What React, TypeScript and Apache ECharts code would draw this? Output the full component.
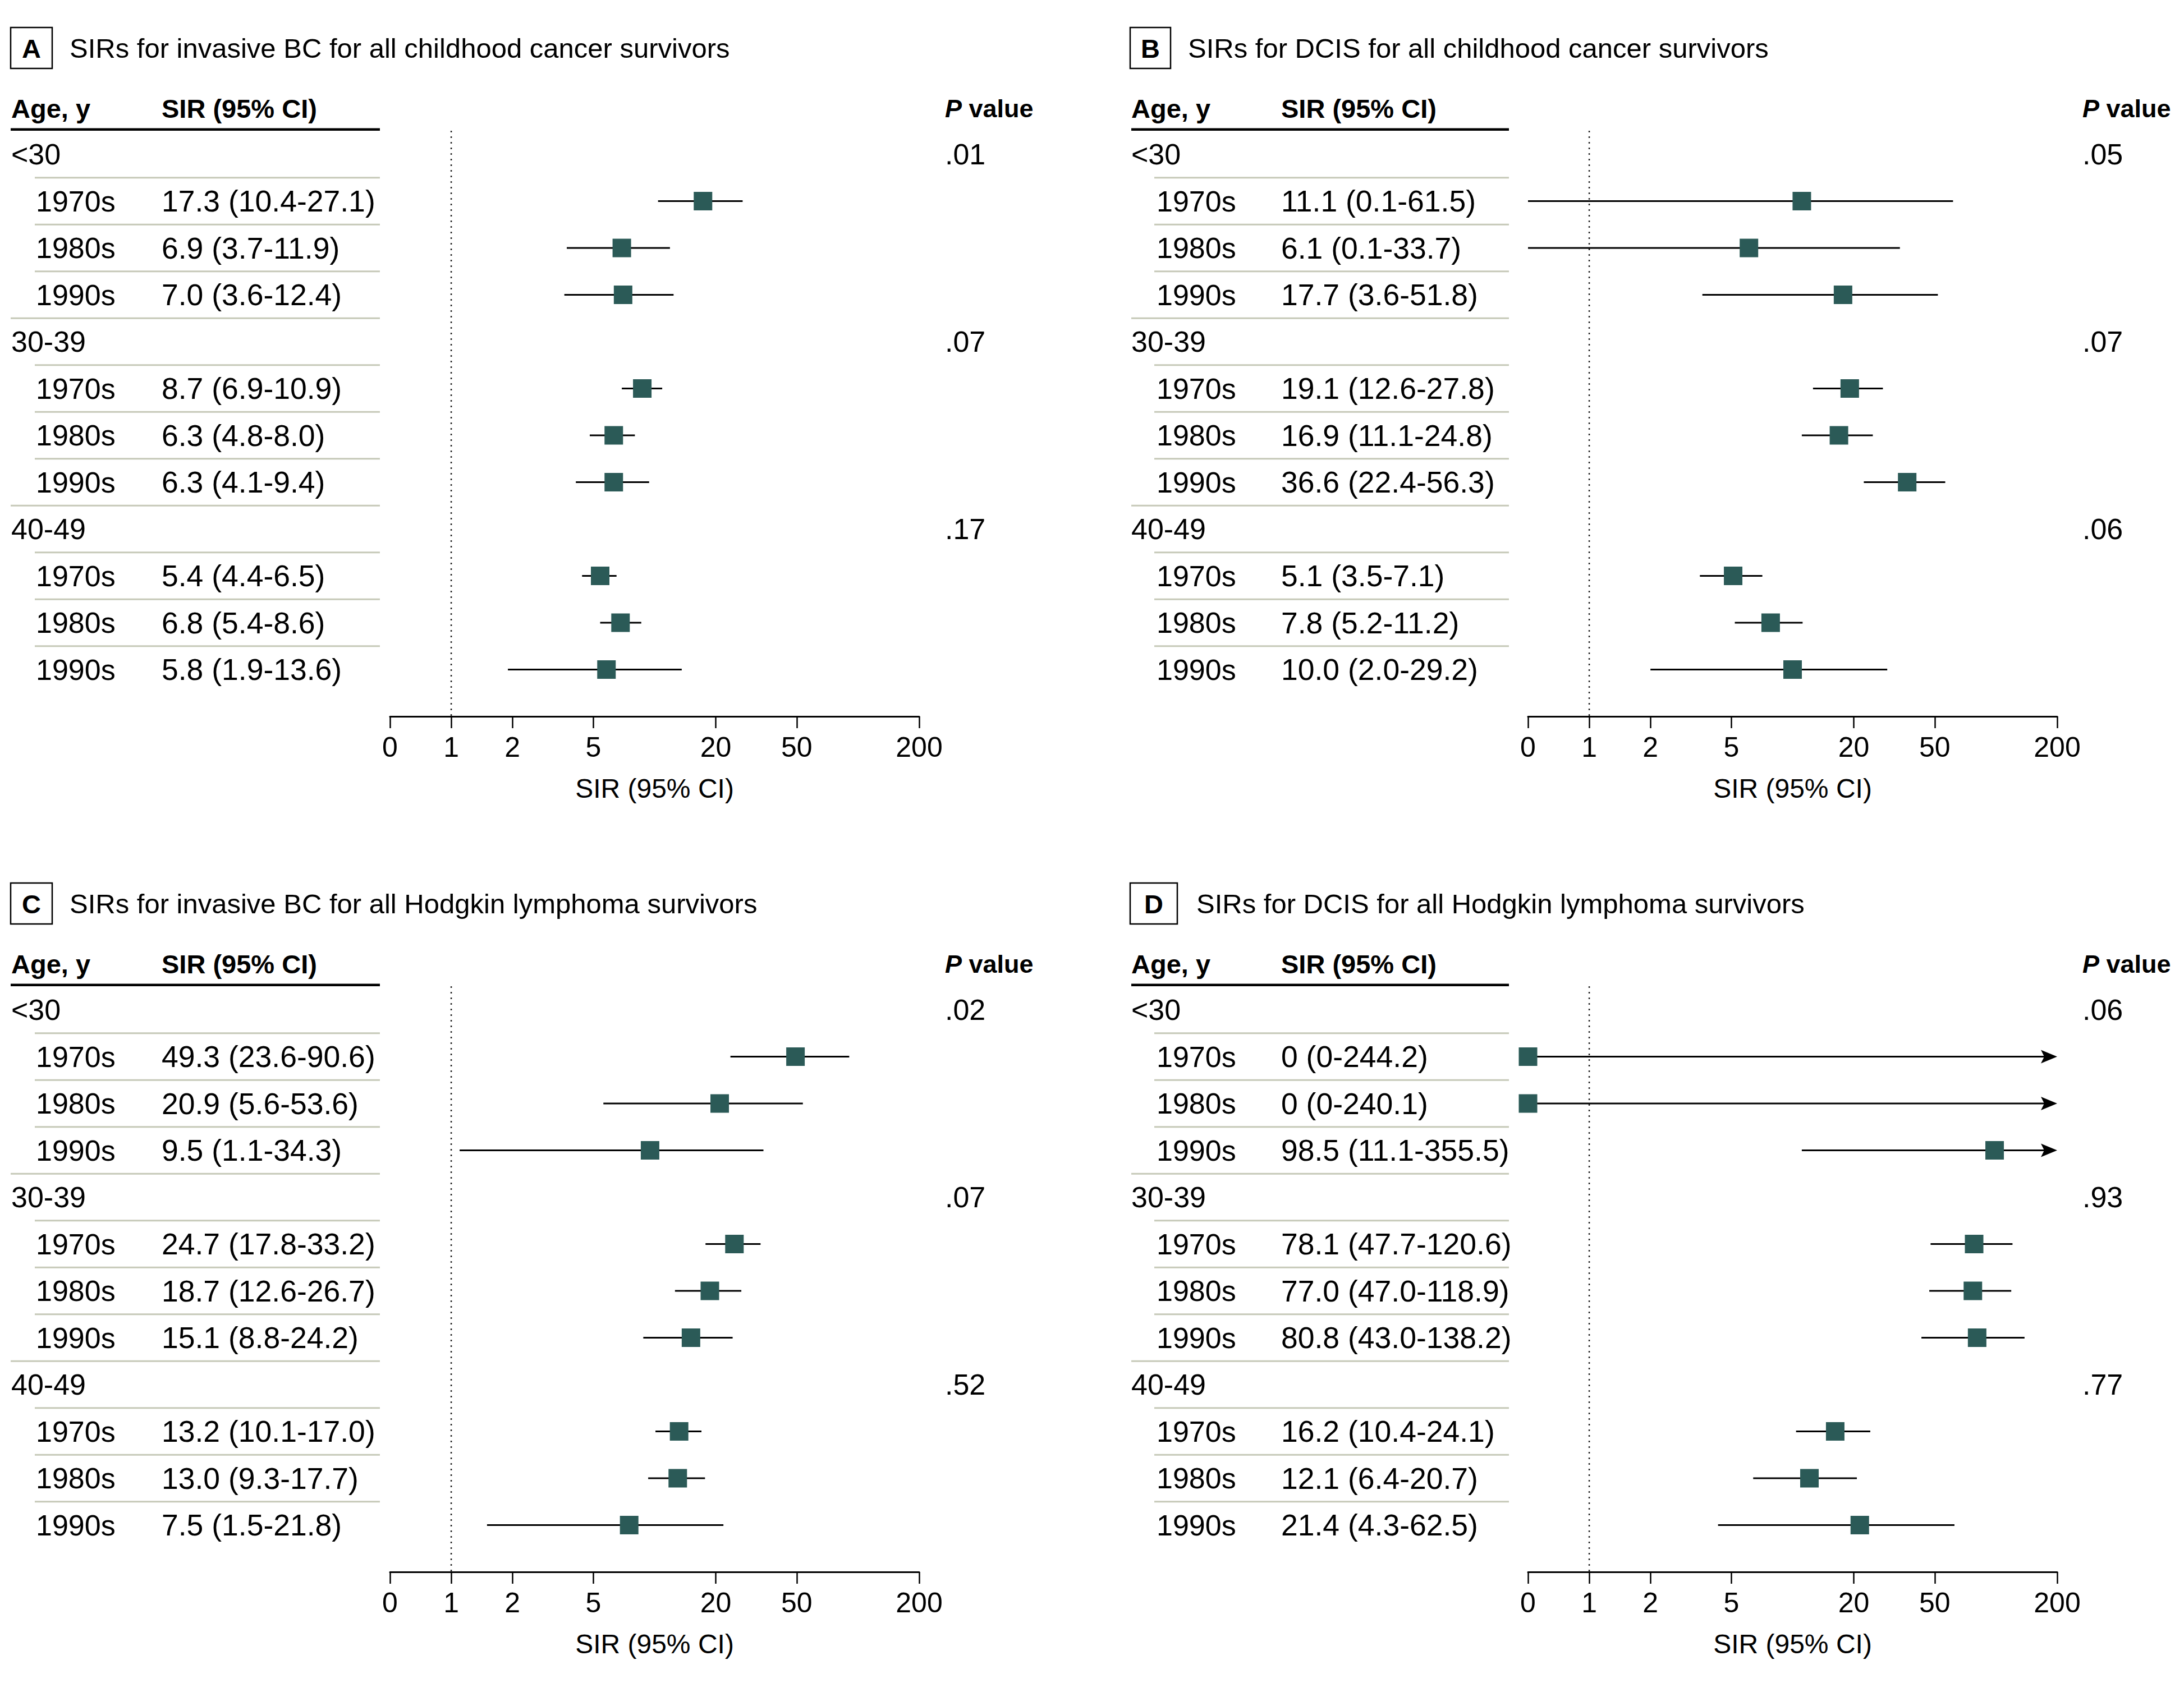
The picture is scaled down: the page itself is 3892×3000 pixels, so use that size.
import React, { useEffect, useRef } from 'react';
import * as echarts from 'echarts';

const W = 3892;
const H = 3000;
const FONT = "'Liberation Sans', Arial, sans-serif";

// ---------- data ----------
const ageGroups = ['<30', '30-39', '40-49'];
const decades = ['1970s', '1980s', '1990s'];
const axisTickValues = [0.5, 1, 2, 5, 20, 50, 200]; // 0.5 is the "0" position of the axis

const titleA = 'SIRs for invasive BC for all childhood cancer survivors';
const sirA = [17.3, 6.9, 7.0, 8.7, 6.3, 6.3, 5.4, 6.8, 5.8];
const lowA = [10.4, 3.7, 3.6, 6.9, 4.8, 4.1, 4.4, 5.4, 1.9];
const highA = [27.1, 11.9, 12.4, 10.9, 8.0, 9.4, 6.5, 8.6, 13.6];
const pA = ['.01', '.07', '.17'];

const titleB = 'SIRs for DCIS for all childhood cancer survivors';
const sirB = [11.1, 6.1, 17.7, 19.1, 16.9, 36.6, 5.1, 7.8, 10.0];
const lowB = [0.1, 0.1, 3.6, 12.6, 11.1, 22.4, 3.5, 5.2, 2.0];
const highB = [61.5, 33.7, 51.8, 27.8, 24.8, 56.3, 7.1, 11.2, 29.2];
const pB = ['.05', '.07', '.06'];

const titleC = 'SIRs for invasive BC for all Hodgkin lymphoma survivors';
const sirC = [49.3, 20.9, 9.5, 24.7, 18.7, 15.1, 13.2, 13.0, 7.5];
const lowC = [23.6, 5.6, 1.1, 17.8, 12.6, 8.8, 10.1, 9.3, 1.5];
const highC = [90.6, 53.6, 34.3, 33.2, 26.7, 24.2, 17.0, 17.7, 21.8];
const pC = ['.02', '.07', '.52'];

const titleD = 'SIRs for DCIS for all Hodgkin lymphoma survivors';
const sirD = [0, 0, 98.5, 78.1, 77.0, 80.8, 16.2, 12.1, 21.4];
const lowD = [0, 0, 11.1, 47.7, 47.0, 43.0, 10.4, 6.4, 4.3];
const highD = [244.2, 240.1, 355.5, 120.6, 118.9, 138.2, 24.1, 20.7, 62.5];
const pD = ['.06', '.93', '.77'];

// ---------- layout ----------
const X_MIN = 0.5;
const X_MAX = 200;
const ROW0 = 275;
const PITCH = 83.5;
const Y_MIN = -1.5;
const Y_MAX = 12;
const HEADER_Y = -0.98;
const HEADER_RULE = -0.53;
const PANEL_DY = 1525;
const SQUARE = '#2b5a57';
const SEP = '#c6c9b8';
const LABEL_SIZE = 52;
const SIR_SIZE = 53.5;
const HEAD_SIZE = 47;

const leftLayout = { ageX: 20, subX: 64, sirX: 288, lineL: 19, indentL: 62, lineR: 677, plotL: 695, plotR: 1638, pX: 1684 };
const rightLayout = { ageX: 2016, subX: 2061, sirX: 2283, lineL: 2016, indentL: 2057, lineR: 2689, plotL: 2723, plotR: 3666, pX: 3711 };

const panels = [
  { letter: 'A', title: titleA, sir: sirA, low: lowA, high: highA, p: pA, L: leftLayout, oy: 0, boxL: 19, boxW: 74, titleX: 124 },
  { letter: 'B', title: titleB, sir: sirB, low: lowB, high: highB, p: pB, L: rightLayout, oy: 0, boxL: 2014, boxW: 72, titleX: 2117 },
  { letter: 'C', title: titleC, sir: sirC, low: lowC, high: highC, p: pC, L: leftLayout, oy: PANEL_DY, boxL: 19, boxW: 74, titleX: 124 },
  { letter: 'D', title: titleD, sir: sirD, low: lowD, high: highD, p: pD, L: rightLayout, oy: PANEL_DY, boxL: 2014, boxW: 84, titleX: 2132 },
];

const fmt = (v: number) => (v === 0 ? '0' : v.toFixed(1));

function textEl(x: number, y: number, text: string, size: number, weight: string = 'normal', align: string = 'left') {
  return {
    type: 'text',
    x,
    y,
    style: {
      text,
      fill: '#000',
      fontSize: size,
      fontFamily: FONT,
      fontWeight: weight,
      textAlign: align,
      align,
      textVerticalAlign: 'middle',
      verticalAlign: 'middle',
    },
  };
}

function buildOption() {
  const grid: any[] = [];
  const xAxis: any[] = [];
  const yAxis: any[] = [];
  const series: any[] = [];
  const graphic: any[] = [];

  panels.forEach((P, pi) => {
    const L = P.L;
    const top = P.oy + ROW0 + Y_MIN * PITCH;
    const height = (Y_MAX - Y_MIN) * PITCH;
    const gT = 2 * pi;
    const gP = 2 * pi + 1;

    grid.push({ left: 0, top, width: W, height, containLabel: false, outerBoundsMode: 'none' });
    grid.push({ left: L.plotL, top, width: L.plotR - L.plotL, height, containLabel: false, outerBoundsMode: 'none' });

    xAxis.push({ type: 'value', gridIndex: gT, min: 0, max: W, show: false });
    xAxis.push({
      type: 'log',
      logBase: 10,
      gridIndex: gP,
      min: X_MIN,
      max: X_MAX,
      position: 'bottom',
      axisLine: { show: true, onZero: false, lineStyle: { color: '#000', width: 3 } },
      axisTick: { show: true, length: 21, lineStyle: { color: '#000', width: 2.5 }, customValues: axisTickValues },
      axisLabel: {
        show: true,
        customValues: axisTickValues,
        formatter: (v: number) => (v < 0.9 ? '0' : String(Math.round(v))),
        fontSize: 50,
        color: '#000',
        fontFamily: FONT,
        margin: 30,
      },
      splitLine: { show: false },
      minorTick: { show: false },
      minorSplitLine: { show: false },
      name: 'SIR (95% CI)',
      nameLocation: 'middle',
      nameGap: 104,
      nameTextStyle: { fontSize: 48, color: '#000', fontFamily: FONT },
    });
    yAxis.push({ type: 'value', gridIndex: gT, min: Y_MIN, max: Y_MAX, inverse: true, show: false });
    yAxis.push({ type: 'value', gridIndex: gP, min: Y_MIN, max: Y_MAX, inverse: true, show: false });

    // table rows
    const rows: any[] = [];
    ageGroups.forEach((g, gi) => {
      rows.push({ kind: 'group', label: g, p: P.p[gi] });
      decades.forEach((d, di) => {
        const k = gi * 3 + di;
        rows.push({ kind: 'sub', label: d, text: `${fmt(P.sir[k])} (${fmt(P.low[k])}-${fmt(P.high[k])})` });
      });
    });
    const tableData: any[] = rows.map((_, i) => [0, i]);
    tableData.push([0, HEADER_Y]);

    series.push({
      type: 'custom',
      xAxisIndex: gT,
      yAxisIndex: gT,
      silent: true,
      clip: false,
      data: tableData,
      renderItem: (params: any, api: any) => {
        const idx = params.dataIndex;
        const yv = api.value(1);
        const y = api.coord([0, yv])[1];
        const X = (px: number) => api.coord([px, yv])[0];
        const children: any[] = [];
        if (idx === rows.length) {
          children.push(textEl(X(L.ageX), y, 'Age, y', HEAD_SIZE, 'bold'));
          children.push(textEl(X(L.sirX), y, 'SIR (95% CI)', HEAD_SIZE, 'bold'));
          children.push({
            type: 'text',
            x: X(L.pX),
            y,
            style: {
              text: '{i|P} value',
              fill: '#000',
              fontSize: 45,
              fontFamily: FONT,
              fontWeight: 'bold',
              textAlign: 'left',
              align: 'left',
              textVerticalAlign: 'middle',
              verticalAlign: 'middle',
              rich: {
                i: { fontStyle: 'italic', fontWeight: 'bold', fontSize: 45, fontFamily: FONT, fill: '#000' },
              },
            },
          });
          const ly = api.coord([0, HEADER_RULE])[1];
          children.push({
            type: 'line',
            shape: { x1: X(L.lineL), y1: ly, x2: X(L.lineR), y2: ly },
            style: { stroke: '#000', lineWidth: 4.5 },
          });
        } else {
          const r = rows[idx];
          if (r.kind === 'group') {
            children.push(textEl(X(L.ageX), y, r.label, LABEL_SIZE));
            children.push(textEl(X(L.pX), y, r.p, LABEL_SIZE));
          } else {
            children.push(textEl(X(L.subX), y, r.label, LABEL_SIZE));
            children.push(textEl(X(L.sirX), y, r.text, SIR_SIZE));
          }
          if (idx < rows.length - 1) {
            const sy = api.coord([0, yv + 0.5])[1];
            const nextGroup = rows[idx + 1].kind === 'group';
            children.push({
              type: 'line',
              shape: { x1: X(nextGroup ? L.lineL : L.indentL), y1: sy, x2: X(L.lineR), y2: sy },
              style: { stroke: SEP, lineWidth: 3 },
            });
          }
        }
        return { type: 'group', children };
      },
    });

    // reference line at SIR = 1
    series.push({
      type: 'line',
      xAxisIndex: gP,
      yAxisIndex: gP,
      data: [[1, HEADER_RULE + 0.03], [1, Y_MAX]],
      symbol: 'none',
      silent: true,
      animation: false,
      lineStyle: { color: '#000', width: 2.5, type: [2.5, 7.5] },
    });

    // estimates with CIs
    const plotData: any[] = P.sir.map((s, k) => [s, P.low[k], P.high[k], Math.floor(k / 3) * 4 + (k % 3) + 1]);
    series.push({
      type: 'custom',
      xAxisIndex: gP,
      yAxisIndex: gP,
      silent: true,
      clip: false,
      encode: { x: 0, y: 3 },
      data: plotData,
      renderItem: (params: any, api: any) => {
        const sv = api.value(0);
        const lo = api.value(1);
        const hi = api.value(2);
        const row = api.value(3);
        const cx = (v: number) => Math.min(X_MAX, Math.max(X_MIN, v));
        const pS = api.coord([cx(sv), row]);
        const pL = api.coord([cx(lo), row]);
        const pH = api.coord([cx(hi), row]);
        const y = pS[1];
        const over = hi > X_MAX;
        const children: any[] = [];
        children.push({
          type: 'line',
          shape: { x1: pL[0], y1: y, x2: over ? pH[0] - 20 : pH[0], y2: y },
          style: { stroke: '#000', lineWidth: 3 },
        });
        if (over) {
          children.push({
            type: 'polygon',
            shape: { points: [[pH[0], y], [pH[0] - 29, y - 12], [pH[0] - 23, y], [pH[0] - 29, y + 12]] },
            style: { fill: '#000' },
          });
        }
        children.push({
          type: 'rect',
          shape: { x: pS[0] - 16.5, y: y - 16.5, width: 33, height: 33 },
          style: { fill: SQUARE },
        });
        return { type: 'group', children };
      },
    });

    // panel title
    graphic.push({
      type: 'rect',
      shape: { x: P.boxL, y: P.oy + 49, width: P.boxW, height: 73 },
      style: { fill: 'none', stroke: '#000', lineWidth: 2.5 },
    });
    graphic.push(textEl(P.boxL + P.boxW / 2, P.oy + 86, P.letter, 47, 'bold', 'center'));
    graphic.push(textEl(P.titleX, P.oy + 86, P.title, 49));
  });

  return {
    animation: false,
    backgroundColor: '#ffffff',
    textStyle: { fontFamily: FONT },
    grid,
    xAxis,
    yAxis,
    series,
    graphic: { elements: graphic },
  };
}

export default function App() {
  const ref = useRef<HTMLDivElement>(null);
  useEffect(() => {
    document.body.style.margin = '0';
    const chart = echarts.init(ref.current as HTMLDivElement, null, { renderer: 'svg', width: W, height: H });
    chart.setOption(buildOption() as any);
    return () => {
      chart.dispose();
    };
  }, []);
  return <div ref={ref} style={{ position: 'absolute', left: 0, top: 0, width: W, height: H, background: '#fff' }} />;
}
